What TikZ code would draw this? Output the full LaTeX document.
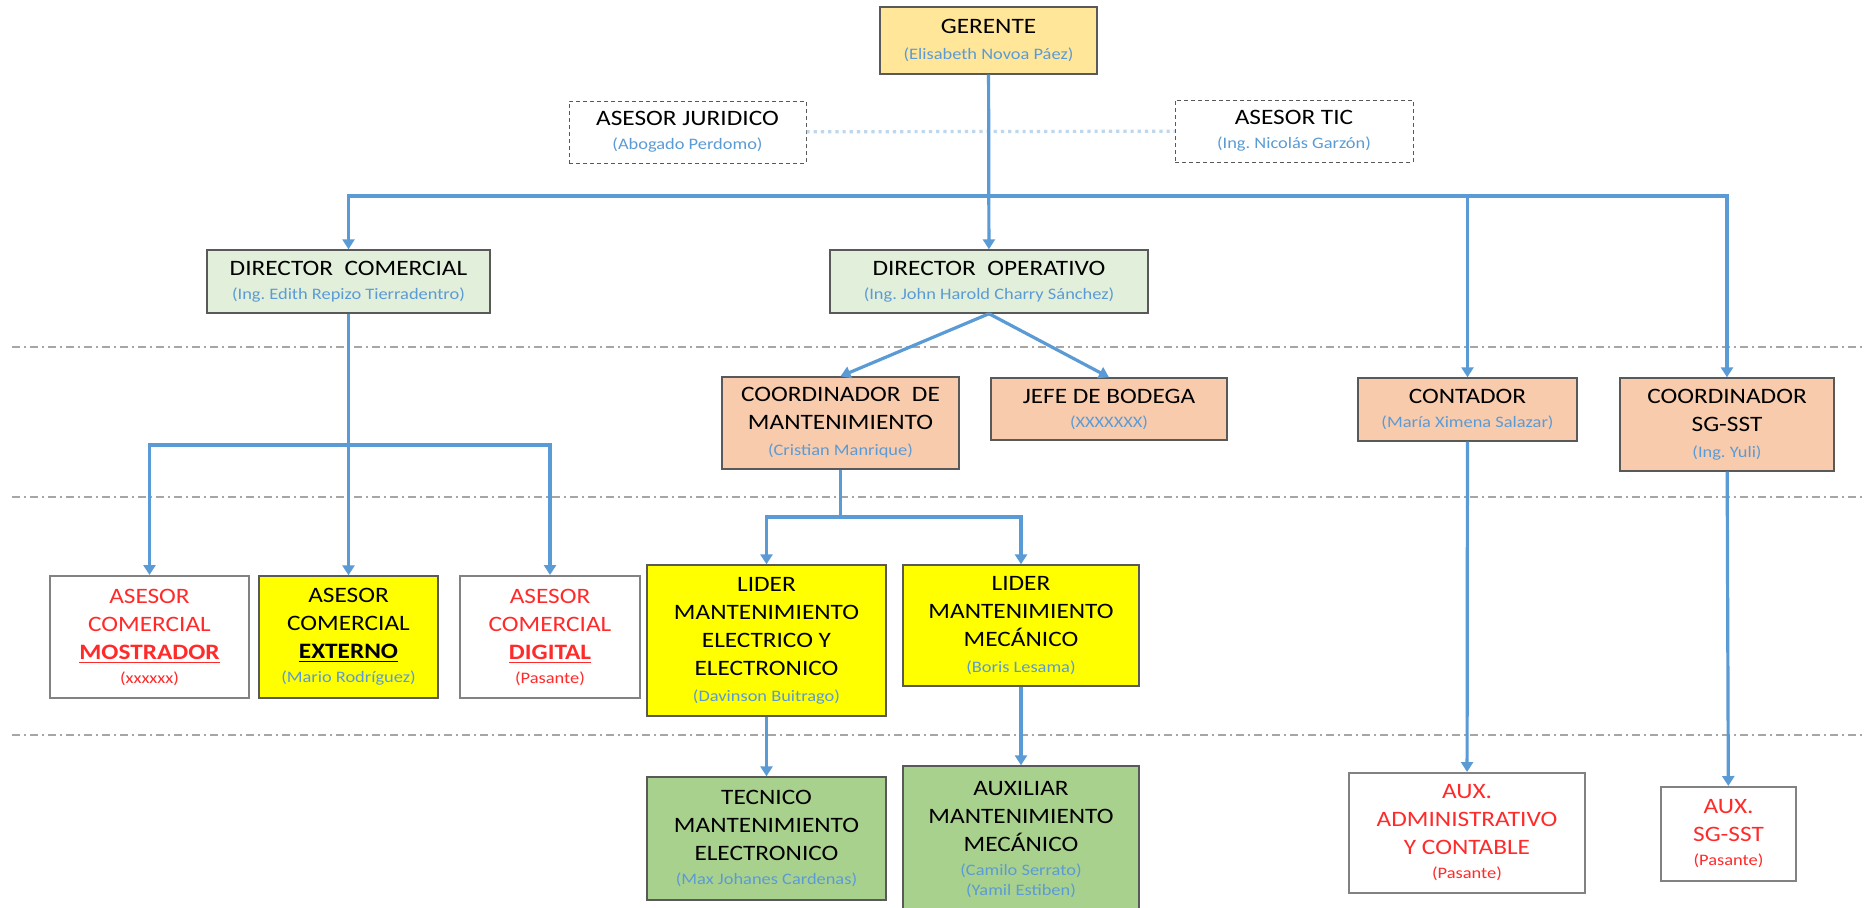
\documentclass[tikz,border=0pt]{standalone}
\usepackage{fontspec}
\setmainfont{Carlito}[FakeStretch=1.15]
\usepackage{tikz}
\usetikzlibrary{arrows.meta}
\definecolor{edge}{HTML}{595959}
\definecolor{gold}{HTML}{FFE699}
\definecolor{sage}{HTML}{E2EFDA}
\definecolor{peach}{HTML}{F8CBAD}
\definecolor{lemon}{HTML}{FFFF00}
\definecolor{leaf}{HTML}{A9D18E}
\definecolor{nameblue}{HTML}{5B9BD5}
\definecolor{linkblue}{HTML}{5B9BD5}
\definecolor{paleblue}{HTML}{BDD7EE}
\definecolor{alert}{HTML}{FF2A2A}
\definecolor{sepgray}{HTML}{A6A6A6}
\newcommand{\nm}[1]{{\fontsize{8}{9.5}\selectfont\color{nameblue}#1}}
\newcommand{\rn}[1]{{\fontsize{8}{9.5}\selectfont #1}}
\frenchspacing

\begin{document}
\begin{tikzpicture}[
  x=0.5pt, y=-0.5pt,
  box/.style={draw=edge, line width=0.7pt, align=center, inner sep=2pt, font=\fontsize{11}{14}\selectfont},
  gerbox/.style={box, fill=gold},
  dirbox/.style={box, fill=sage},
  coordbox/.style={box, fill=peach},
  leadbox/.style={box, fill=lemon},
  techbox/.style={box, fill=leaf},
  openbox/.style={box, draw=edge!75, line width=1pt, fill=white, text=alert},
  advbox/.style={box, line width=0.5pt, dash pattern=on 2pt off 1.5pt},
  link/.style={draw=linkblue, line width=1.6pt},
  arrow/.style={link, -{Triangle[width=6pt,length=5pt]}},
  sep/.style={draw=sepgray, line width=0.8pt, dash pattern=on 4pt off 2pt on 1pt off 2pt}
]
\fill[white] (0,0) rectangle (1865,907);
\useasboundingbox (0,0) rectangle (1865,907);

% level separators
\foreach \y in {347,497,735}
  \draw[sep] (12,\y) -- (1865,\y);

% top
\node[gerbox, minimum width=108.5pt, minimum height=33.5pt] (ger) at (988.5,40.5) {GERENTE\\[-1pt]\nm{(Elisabeth Novoa Páez)}};
\node[advbox, minimum width=118.5pt, minimum height=31pt] (jur) at (687.5,132) {ASESOR JURIDICO\\[-2pt]\nm{(Abogado Perdomo)}};
\node[advbox, minimum width=119pt, minimum height=31pt] (tic) at (1294,131) {ASESOR TIC\\[-2pt]\nm{(Ing. Nicolás Garzón)}};

% directors
\node[dirbox, minimum width=141.5pt, minimum height=31.5pt] (dcom) at (348.5,281.5) {DIRECTOR~~COMERCIAL\\[-2pt]\nm{(Ing. Edith Repizo Tierradentro)}};
\node[dirbox, minimum width=159pt, minimum height=31.5pt] (dope) at (989,281.5) {DIRECTOR~~OPERATIVO\\[-2pt]\nm{(Ing. John Harold Charry Sánchez)}};

% coordinators
\node[coordbox, minimum width=118.5pt, minimum height=46pt] (cman) at (840.5,423) {COORDINADOR~~DE\\MANTENIMIENTO\\[-1pt]\nm{(Cristian Manrique)}};
\node[coordbox, minimum width=118pt, minimum height=31pt] (bod) at (1109,409) {JEFE DE BODEGA\\[-2pt]\nm{(XXXXXXX)}};
\node[coordbox, minimum width=109.5pt, minimum height=31.5pt] (cont) at (1467.5,409.5) {CONTADOR\\[-2pt]\nm{(María Ximena Salazar)}};
\node[coordbox, minimum width=107pt, minimum height=46.5pt] (csst) at (1727,424.5) {COORDINADOR\\SG-SST\\[-1pt]\nm{(Ing. Yuli)}};

% sales advisers
\node[openbox, minimum width=99.5pt, minimum height=61pt] (amos) at (149.5,637) {ASESOR\\COMERCIAL\\\underline{\textbf{MOSTRADOR}}\\[-2pt]\rn{(xxxxxx)}};
\node[leadbox, minimum width=89.5pt, minimum height=61pt] (aext) at (348.5,637) {ASESOR\\COMERCIAL\\\underline{\textbf{EXTERNO}}\\[-2pt]\nm{(Mario Rodríguez)}};
\node[openbox, minimum width=90pt, minimum height=61pt] (adig) at (550,637) {ASESOR\\COMERCIAL\\\underline{\textbf{DIGITAL}}\\[-2pt]\rn{(Pasante)}};

% maintenance leaders
\node[leadbox, minimum width=119.5pt, minimum height=75.5pt] (lele) at (766.5,640.5) {LIDER\\MANTENIMIENTO\\ELECTRICO Y\\ELECTRONICO\\[-1pt]\nm{(Davinson Buitrago)}};
\node[leadbox, minimum width=118pt, minimum height=60.5pt] (lmec) at (1021,625.5) {LIDER\\MANTENIMIENTO\\MECÁNICO\\[-1pt]\nm{(Boris Lesama)}};

% bottom row
\node[techbox, minimum width=119.5pt, minimum height=61.5pt] (tec) at (766.5,838.5) {TECNICO\\MANTENIMIENTO\\ELECTRONICO\\[-2pt]\nm{(Max Johanes Cardenas)}};
\node[techbox, minimum width=118pt, minimum height=74pt] (aux) at (1021,840) {AUXILIAR\\MANTENIMIENTO\\MECÁNICO\\[-2pt]\nm{(Camilo Serrato)}\\[-4pt]\nm{(Yamil Estiben)}};
\node[openbox, minimum width=118pt, minimum height=60pt] (aadm) at (1467,833) {AUX.\\ADMINISTRATIVO\\Y CONTABLE\\[-2pt]\rn{(Pasante)}};
\node[openbox, minimum width=67.5pt, minimum height=47pt] (asst) at (1728.5,834) {AUX.\\SG-SST\\[-2pt]\rn{(Pasante)}};

% connectors
\draw[link, draw=paleblue, dotted] (jur) -- (tic);
\coordinate (bus) at (988.5,196);
\draw[arrow] (ger) -- (dope);
\draw[arrow] (bus) -| (dcom);
\draw[arrow] (bus) -| (cont);
\draw[arrow] (bus) -| (csst);

\coordinate (cbus) at (348.5,445);
\draw[arrow] (dcom) -- (aext);
\draw[arrow] (cbus) -| (amos);
\draw[arrow] (cbus) -| (adig);

\draw[arrow] (dope.south) -- (cman.north);
\draw[arrow] (dope.south) -- (bod.north);

\coordinate (mbus) at (840.5,517);
\draw[link] (cman) -- (mbus);
\draw[arrow] (mbus) -| (lele);
\draw[arrow] (mbus) -| (lmec);

\draw[arrow] (lele) -- (tec);
\draw[arrow] (lmec) -- (aux);
\draw[arrow] (cont) -- (aadm);
\draw[arrow] (csst) -- (asst);
\end{tikzpicture}
\end{document}
